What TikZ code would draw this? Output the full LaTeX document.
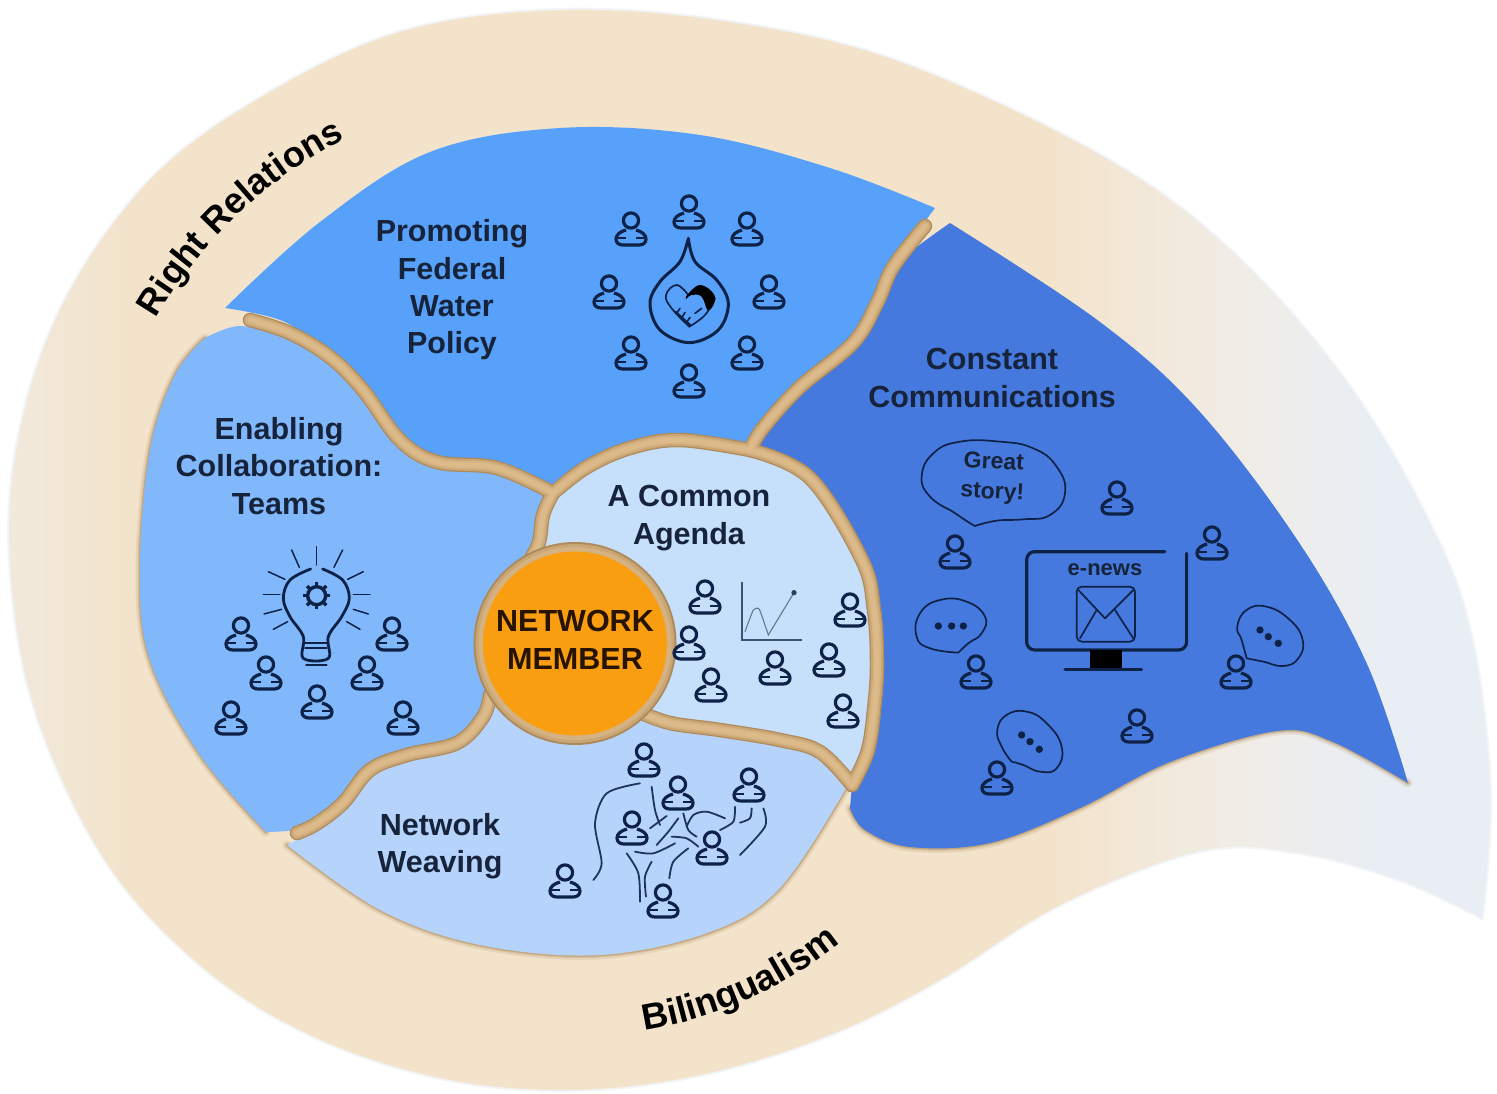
\documentclass[tikz,border=0pt]{standalone}
\usepackage{fontspec}
\setmainfont{Liberation Sans}
\usetikzlibrary{decorations.text}
\definecolor{ink}{HTML}{0E2248}
\definecolor{labelink}{HTML}{16233A}
\definecolor{sandL}{HTML}{F1E9DD}
\definecolor{sandA}{HTML}{F3E3CB}
\definecolor{sandB}{HTML}{F1ECE4}
\definecolor{sandC}{HTML}{E9EEF4}
\definecolor{gutter}{HTML}{DCBA8A}
\definecolor{guttermid}{HTML}{CBA675}
\definecolor{gutterdark}{HTML}{AD8A5A}
\definecolor{commblue}{HTML}{4579DD}
\definecolor{policyblue}{HTML}{58A1FA}
\definecolor{teamblue}{HTML}{80B8FB}
\definecolor{weaveblue}{HTML}{B6D4FB}
\definecolor{agendablue}{HTML}{C6DFFA}
\definecolor{memberorange}{HTML}{F99E10}
\pgfdeclarehorizontalshading{sandfade}{100bp}{color(0bp)=(sandL); color(25bp)=(sandL); color(29bp)=(sandA); color(60bp)=(sandA); color(66bp)=(sandB); color(71bp)=(sandC); color(100bp)=(sandC)}
\tikzset{
  sm/.style={smooth,tension=.6},
  lab/.style={font=\fontsize{30.5}{37.4}\selectfont\bfseries, text=labelink, align=center, inner sep=0pt},
  icon/.style={draw=ink, line width=2.4pt, line cap=round, line join=round},
  thin icon/.style={icon, line width=1.7pt},
  zoomed/.style={x=0.3333pt, y=-0.3333pt},
  person/.pic={
    \draw[draw=ink, line width=3.2pt] (0,-8.5) circle (7.6);
    \draw[draw=ink, line width=3.2pt, line join=round] (-5,1) .. controls (-11,2.5) and (-15,6) .. (-15,10) .. controls (-15,14) and (-12,16) .. (-8,16) -- (8,16) .. controls (12,16) and (15,14) .. (15,10) .. controls (15,6) and (11,2.5) .. (5,1);
    \draw[draw=ink, line width=2pt] (-13,8.5) -- (-5,8.5) (5,8.5) -- (13,8.5);
  }
}
% gutter centre lines
\def\gA{plot[sm] coordinates {(250,320) (290,333) (330,357) (363,390) (400,440) (437,462) (497,468) (553,493)}}
\def\gB{plot[sm] coordinates {(553,493) (543,515) (538,545) (520,575)}}
\def\gC{plot[sm] coordinates {(553,493) (587,467) (630,448) (680,440) (750,450)}}
\def\gD{plot[sm] coordinates {(750,450) (763,428) (800,387) (853,343) (877,303) (893,267) (925,226)}}
\def\gE{plot[sm] coordinates {(297,833) (316,824) (343,803) (370,770) (407,755) (457,743) (483,717) (490,695)}}
\def\gF{plot[sm] coordinates {(640,712) (670,723) (720,730) (780,740) (820,752) (852,785)}}
\def\gG{plot[sm] coordinates {(750,450) (810,478) (862,560) (874,610) (877,660) (875,700) (868,750) (852,785)}}
\def\panelpolicy{plot[sm] coordinates {(225,308) (320,222) (430,152) (560,128) (700,135) (830,168) (935,208)} -- plot[sm] coordinates {(935,208) (893,267) (877,303) (853,343) (800,387) (763,428) (750,450)} -- plot[sm] coordinates {(750,450) (680,440) (630,448) (587,467) (553,493)} -- plot[sm] coordinates {(553,493) (497,468) (437,462) (400,440) (363,390) (330,357) (285,322) (225,308)} -- cycle}
\def\teamouter{(266,832) (200,755) (150,660) (140,570) (150,450) (175,375) (205,338)}
\def\panelteam{plot[sm] coordinates {(205,338) (240,326) (285,338) (330,357) (363,390) (400,440) (437,462) (497,468) (553,493)} -- plot[sm] coordinates {(553,493) (543,515) (538,545) (520,575)} -- (490,695) -- plot[sm] coordinates {(490,695) (483,717) (457,743) (407,755) (370,770) (343,803) (310,827) (266,832)} -- plot[sm] coordinates {(266,832) (200,755) (150,660) (140,570) (150,450) (175,375) (205,338)} -- cycle}
\def\panelweave{plot[sm] coordinates {(287,845) (316,828) (343,803) (370,770) (407,755) (457,743) (483,717) (490,695)} -- (640,712) -- plot[sm] coordinates {(640,712) (670,723) (720,730) (780,740) (820,752) (852,785)} -- plot[sm] coordinates {(845,790) (780,888) (710,932) (600,955) (480,945) (380,910) (287,845)} -- cycle}
\def\panelagenda{plot[sm] coordinates {(520,575) (538,545) (543,515) (553,493)} -- plot[sm] coordinates {(553,493) (587,467) (630,448) (680,440) (750,450)} -- plot[sm] coordinates {(750,450) (810,478) (862,560) (874,610) (877,660) (875,700) (868,750) (852,785)} -- plot[sm] coordinates {(852,785) (820,752) (780,740) (720,730) (670,723) (640,712)} -- (575,640) -- cycle}
\def\panelcomm{plot[sm] coordinates {(750,450) (763,428) (800,387) (853,343) (877,303) (893,267) (950,223)} -- plot[sm] coordinates {(950,223) (1100,322) (1200,412) (1300,544) (1367,664) (1408,783)} -- plot[sm] coordinates {(1408,783) (1333,742) (1277,731) (1170,762) (1080,808) (990,843) (910,847) (865,830) (850,808)} -- (852,785) -- plot[sm] coordinates {(852,785) (868,750) (875,700) (877,660) (874,610) (862,560) (810,478) (750,450)} -- cycle}
\def\outershape{plot[sm] coordinates {(1482,918) (1490,790) (1472,640) (1433,530) (1347,383) (1230,250) (1100,155) (900,62) (730,22) (560,10) (400,32) (260,98) (150,180) (65,300) (20,430) (10,560) (35,710) (105,860) (200,965) (310,1035) (440,1078) (570,1090) (700,1075) (830,1035) (940,980) (1060,905) (1200,851) (1300,853) (1400,880) (1482,918)} -- cycle}
\begin{document}
\begin{tikzpicture}[x=1pt,y=-1pt]
\useasboundingbox (0,0) rectangle (1497,1093);
\fill[white] (0,0) rectangle (1497,1093);
% outer sand shape
\draw[sandC!60!white, line width=4pt, line join=round] \outershape;
\path[shading=sandfade] \outershape;
% soft edges on the outward sides
\foreach \w/\o in {9/.16,5/.26,2.5/.45}{
  \draw[gutterdark, line width=\w pt, opacity=\o, line cap=round] plot[sm] coordinates {(266,832) (200,755) (150,660) (140,570) (150,450) (175,375) (205,338)};
  \draw[gutterdark, line width=\w pt, opacity=\o, line cap=round] plot[sm] coordinates {(845,790) (780,888) (710,932) (600,955) (480,945) (380,910) (287,845)};
  \draw[gutterdark, line width=\w pt, opacity=\o, line cap=round] plot[sm] coordinates {(1408,783) (1333,742) (1277,731) (1170,762) (1080,808) (990,843) (910,847) (865,830) (850,808)};
}
% panels
\fill[commblue] \panelcomm;
\fill[policyblue] \panelpolicy;
\fill[teamblue] \panelteam;
\fill[weaveblue] \panelweave;
\fill[agendablue] \panelagenda;
% gutters over the panel joins
\foreach \w/\c in {14.5/gutterdark,12/guttermid,8/gutter!70!guttermid,4.5/gutter}{
  \foreach \g in {\gA,\gB,\gC,\gD,\gE,\gF,\gG}{
    \draw[\c, line width=\w pt, line join=round, line cap=round] \g;
  }
}
% centre
\fill[gutterdark] (575,643.5) circle (101.5);
\fill[guttermid] (575,643.5) circle (99.5);
\fill[gutter!60!guttermid] (575,643.5) circle (96.5);
\node[circle, fill=memberorange, minimum size=184pt, inner sep=0pt] (member) at (575,643.5) {};
\node[lab, text=black!85!orange] (memberlabel) at (575,640) {NETWORK\\MEMBER};
% labels
\node[lab] (policylabel) at (452,290) {Promoting\\Federal\\Water\\Policy};
\node[lab] (teamlabel) at (279,466) {Enabling\\Collaboration:\\Teams};
\node[lab] (commlabel) at (992,378) {Constant\\Communications};
\node[lab] (agendalabel) at (689,518) {A Common\\Agenda};
\node[lab] (weavelabel) at (440,846) {Network\\Weaving};
\path[decorate, decoration={text along path, text align=center, text={|\fontsize{36}{36}\selectfont\bfseries|Right Relations}}] (152,325) .. controls (195,250) and (260,180) .. (352,136);
\path[decorate, decoration={text along path, text align=center, text={|\fontsize{36.5}{36}\selectfont\bfseries|Bilingualism}}] (634,1032) .. controls (715,1022) and (790,985) .. (848,936);
% people
\foreach \x/\y in {689/212,631/229,747/229,609/292,769/292,631/353,747/353,689/381,
  241/634,392/634,266/673,367/673,317/702,231/718,403/718,
  705/597,850/610,689/643,829/660,711/685,775/668,843/711,
  644/760,678/793,749/785,632/828,712/848,565/881,663/901,
  1117/498,1212/543,955/552,976/672,1236/672,1137/726,997/778}{
  \pic at (\x,\y) {person};
}
% water drop and heart
\begin{scope}[shift={(580,180)},zoomed]
  \draw[icon, line width=3pt] plot[smooth,tension=.6] coordinates {(325,175) (300,245) (240,305) (210,370) (240,450) (328,488) (415,450) (445,370) (410,300) (345,245) (325,175)};
  \draw[thin icon] plot[smooth,tension=.7] coordinates {(325,345) (290,315) (258,345) (275,385) (328,440)};
  \draw[thin icon] plot[smooth,tension=.7] coordinates {(328,440) (375,405) (405,355)};
  \fill[black] plot[smooth,tension=.7] coordinates {(318,350) (360,315) (405,350) (385,392) (365,350) (335,345) (318,358)} -- cycle;
  \draw[icon] (285,395) -- (330,435);
  \draw[thin icon] (300,385) -- (290,400) (315,398) -- (305,413) (330,412) -- (320,427);
  \draw[thin icon] (345,400) -- (365,385);
\end{scope}
% lightbulb
\begin{scope}[shift={(200,530)},zoomed]
  \draw[icon, line width=2.8pt] plot[smooth,tension=.6] coordinates {(332,117) (270,150) (250,205) (270,260) (310,320) (310,385) (385,385) (385,320) (425,260) (448,205) (428,150) (368,117)};
  \draw[thin icon] (315,340) -- (380,340) (315,355) -- (380,355) (318,405) -- (380,405);
  \foreach \a/\b/\c/\d in {275/60/298/112,350/50/350/105,428/60/402/112,205/125/255/148,490/125/443/148,190/193/240/193,510/193/460/193,192/252/245/238,505/252/460/238,220/298/263/275,480/298/440/275}{
    \draw[thin icon, line width=1.5pt] (\a,\b) -- (\c,\d);
  }
  \draw[ink, line width=3.4pt] (350,197) circle (27);
  \foreach \t in {0,45,...,315}{
    \draw[ink, line width=3.4pt] (350,197) ++(\t:27) -- ++(\t:14);
  }
\end{scope}
% chart
\begin{scope}[shift={(670,560)},zoomed]
  \draw[ink!75!agendablue, line width=1.8pt] (215,65) -- (215,240) -- (395,240);
  \draw[ink!55!agendablue, line width=1.1pt] plot[smooth,tension=.3] coordinates {(225,215) (250,150) (268,148) (295,225)} -- (372,98);
  \fill[ink!85!agendablue] (372,98) circle (8);
\end{scope}
% weaving threads
\begin{scope}[shift={(540,730)},zoomed, every path/.append style={draw=ink!90!weaveblue, line width=1.8pt, line cap=round}]
  \draw plot[smooth] coordinates {(300,160) (200,190) (165,280) (185,400) (160,450)};
  \draw plot[smooth] coordinates {(335,170) (345,240) (360,285)};
  \draw (380,258) -- (330,295);
  \draw plot[smooth] coordinates {(415,265) (385,305) (350,345)};
  \draw plot[smooth] coordinates {(285,365) (340,370) (405,340)};
  \draw plot[smooth] coordinates {(260,370) (295,430) (300,515)};
  \draw plot[smooth] coordinates {(335,395) (315,440) (318,500)};
  \draw plot[smooth] coordinates {(445,355) (400,395) (388,445)};
  \draw plot[smooth] coordinates {(395,320) (440,325) (475,350)};
  \draw plot[smooth] coordinates {(430,250) (445,300) (470,320)};
  \draw plot[smooth] coordinates {(440,290) (460,255) (500,245) (555,265)};
  \draw plot[smooth] coordinates {(585,230) (580,275) (540,300)};
  \draw plot[smooth] coordinates {(635,235) (630,265) (600,278)};
  \draw plot[smooth] coordinates {(670,235) (675,290) (600,375)};
\end{scope}
% monitor and speech bubbles
\begin{scope}[shift={(900,430)},zoomed]
  \draw[icon, line width=3.2pt, rounded corners=8pt] (795,365) -- (380,365) -- (380,660) -- (860,660) -- (860,370);
  \fill[black] (570,660) rectangle (665,718);
  \draw[icon, line width=3pt] (495,720) -- (725,720);
  \draw[thin icon, rounded corners=5pt] (530,470) rectangle (705,635);
  \draw[thin icon] (535,480) -- (615,565) -- (700,480);
  \draw[thin icon] (540,625) -- (590,540) (700,625) -- (645,540);
  \draw[thin icon] plot[smooth,tension=.8] coordinates {(150,240) (90,200) (65,140) (100,70) (180,35) (300,35) (400,55) (470,110) (495,190) (450,255) (370,268) (290,272) (225,288)};
  \draw[thin icon] (225,288) .. controls (200,275) and (175,255) .. (150,240);
  \draw[thin icon] plot[smooth,tension=.8] coordinates {(175,668) (90,655) (50,620) (60,550) (120,510) (200,515) (255,560) (245,610) (205,640) (175,668)};
  \draw[thin icon] plot[smooth,tension=.8] coordinates {(1040,685) (1025,630) (1012,590) (1040,540) (1100,530) (1170,570) (1208,630) (1195,685) (1150,708) (1090,695) (1040,685)};
  \draw[thin icon] plot[smooth,tension=.8] coordinates {(335,995) (305,950) (292,900) (320,855) (380,845) (440,880) (485,950) (470,1015) (420,1025) (370,1005) (335,995)};
  \foreach \a/\b in {115/588,155/588,190/588,1080/600,1105/620,1135/640,365/915,390/935,418/958}{
    \fill[ink] (\a,\b) circle (11);
  }
\end{scope}
\node[lab, font=\fontsize{23}{30}\selectfont\bfseries, rotate=-3] (greatstory) at (993,478) {Great\\story!};
\node[lab, font=\fontsize{22}{24}\selectfont\bfseries] (enews) at (1105,570) {e-news};
\end{tikzpicture}
\end{document}
